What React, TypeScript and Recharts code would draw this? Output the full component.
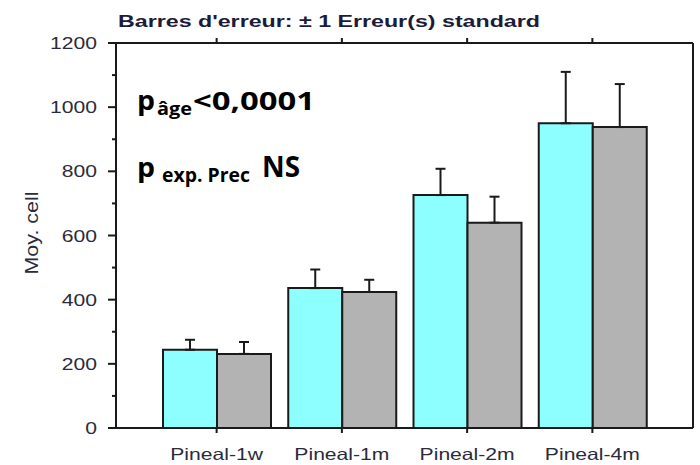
import { BarChart, Bar, XAxis, YAxis, ErrorBar } from "recharts";

const groups = ["Pineal-1w", "Pineal-1m", "Pineal-2m", "Pineal-4m"];
const cyanMeans = [244, 436, 726, 950];
const cyanErr = [31, 58, 82, 160];
const grayMeans = [231, 424, 640, 938];
const grayErr = [37, 38, 81, 134];
const yTicks = [0, 100, 200, 300, 400, 500, 600, 700, 800, 900, 1000, 1100, 1200];

const data = groups.map((g, i) => ({
  name: g,
  cyan: cyanMeans[i],
  cyanE: [0, cyanErr[i]],
  gray: grayMeans[i],
  grayE: [0, grayErr[i]],
}));

const ink = "#1a1a1a";
const labelInk = "#2b2b3b";
const arial = "Arial, 'Liberation Sans', sans-serif";
const calib = "'Open Sans', 'Noto Sans', sans-serif";

function LeftTick(props: any) {
  const { x, y, payload } = props;
  const major = payload.value % 200 === 0;
  return (
    <g>
      <line x1={x} x2={x - (major ? 8 : 4)} y1={y} y2={y} stroke={ink} strokeWidth={2} />
      {major && (
        <text
          transform={`translate(${x - 19},${y + 6}) scale(1.28,1)`}
          textAnchor="end"
          fontSize={16.5}
          fill={labelInk}
          fontFamily={arial}
        >
          {payload.value}
        </text>
      )}
    </g>
  );
}

function RightTick(props: any) {
  const { x, y } = props;
  return <line x1={x} x2={x + 5} y1={y} y2={y} stroke={ink} strokeWidth={2} />;
}

function BottomTick(props: any) {
  const { x, y, payload } = props;
  return (
    <g>
      <line x1={x} x2={x} y1={y} y2={y + 5} stroke={ink} strokeWidth={2} />
      <text
        transform={`translate(${x},${y + 32}) scale(1.28,1)`}
        textAnchor="middle"
        fontSize={16.5}
        fill={labelInk}
        fontFamily={arial}
      >
        {payload.value}
      </text>
    </g>
  );
}

function TopTick(props: any) {
  const { x, y } = props;
  return <line x1={x} x2={x} y1={y} y2={y - 5} stroke={ink} strokeWidth={2} />;
}

export default function App() {
  return (
    <div style={{ position: "absolute", left: 0, top: 0, width: 700, height: 465, background: "#fff" }}>
      <BarChart
        width={700}
        height={465}
        data={data}
        margin={{ top: 0, right: 0, bottom: 0, left: 0 }}
        barGap={0}
      >
        <XAxis
          xAxisId="bottom"
          dataKey="name"
          height={37}
          padding={{ left: 38, right: 38 }}
          axisLine={{ stroke: ink, strokeWidth: 2 }}
          tickLine={false}
          tickSize={0}
          tickMargin={0}
          tick={<BottomTick />}
          interval={0}
        />
        <XAxis
          xAxisId="top"
          dataKey="name"
          orientation="top"
          height={43}
          padding={{ left: 38, right: 38 }}
          axisLine={{ stroke: ink, strokeWidth: 2 }}
          tickLine={false}
          tickSize={0}
          tickMargin={0}
          tick={<TopTick />}
          interval={0}
        />
        <YAxis
          yAxisId="left"
          width={116}
          domain={[0, 1200]}
          ticks={yTicks}
          interval={0}
          axisLine={{ stroke: ink, strokeWidth: 2 }}
          tickLine={false}
          tickSize={0}
          tickMargin={0}
          tick={<LeftTick />}
        />
        <YAxis
          yAxisId="right"
          orientation="right"
          width={7}
          domain={[0, 1200]}
          ticks={yTicks}
          interval={0}
          axisLine={{ stroke: ink, strokeWidth: 2 }}
          tickLine={false}
          tickSize={0}
          tickMargin={0}
          tick={<RightTick />}
        />
        <Bar dataKey="cyan" xAxisId="bottom" yAxisId="left" barSize={54} fill="#8effff" stroke={ink} strokeWidth={2} isAnimationActive={false}>
          <ErrorBar dataKey="cyanE" width={5} stroke={ink} strokeWidth={2} direction="y" />
        </Bar>
        <Bar dataKey="gray" xAxisId="bottom" yAxisId="left" barSize={54} fill="#b3b3b3" stroke={ink} strokeWidth={2} isAnimationActive={false}>
          <ErrorBar dataKey="grayE" width={5} stroke={ink} strokeWidth={2} direction="y" />
        </Bar>
      </BarChart>
      <svg width={700} height={465} style={{ position: "absolute", left: 0, top: 0, pointerEvents: "none" }}>
        <text x={118} y={27} fontFamily={arial} fontWeight="bold" fontSize={17} fill="#1c1c3a" textLength={422} lengthAdjust="spacingAndGlyphs">
          Barres d'erreur: ± 1 Erreur(s) standard
        </text>
        <text
          transform="translate(38,233) scale(1.3,1) rotate(-90)"
          textAnchor="middle"
          fontFamily={arial}
          fontSize={14}
          fill={labelInk}
          textLength={83}
          lengthAdjust="spacingAndGlyphs"
        >
          Moy. cell
        </text>
        <g fontFamily={calib} fontWeight={700} fill="#000">
          <text x={137} y={109.5} fontSize={26} textLength={18} lengthAdjust="spacingAndGlyphs">p</text>
          <text x={157} y={114.5} fontSize={17} textLength={35} lengthAdjust="spacingAndGlyphs">âge</text>
          <text x={193} y={109.5} fontSize={25} textLength={122} lengthAdjust="spacingAndGlyphs">&lt;0,0001</text>
          <text x={137} y={176.7} fontSize={26} textLength={18} lengthAdjust="spacingAndGlyphs">p</text>
          <text x={162} y={181.7} fontSize={19} textLength={88} lengthAdjust="spacingAndGlyphs">exp. Prec</text>
          <text x={262} y={176.7} fontSize={28} textLength={38} lengthAdjust="spacingAndGlyphs">NS</text>
        </g>
      </svg>
    </div>
  );
}
